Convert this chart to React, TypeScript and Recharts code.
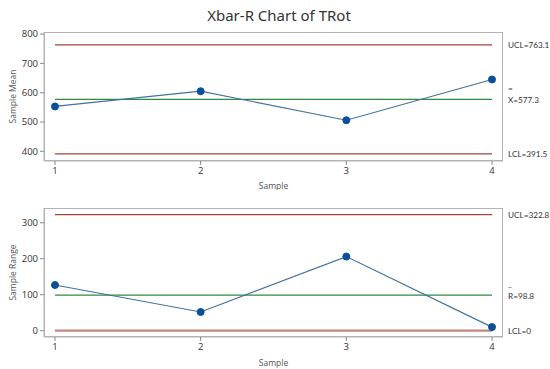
import { LineChart, Line, XAxis, YAxis, ReferenceLine } from "recharts"

const samples = [1, 2, 3, 4]
const sampleMeans = [553, 605, 506, 645]
const sampleRanges = [127, 52, 206, 10]

const meanLimits = { ucl: 763.1, cl: 577.3, lcl: 391.5 }
const rangeLimits = { ucl: 322.8, cl: 98.8, lcl: 0 }

const meanTicks = [400, 500, 600, 700, 800]
const rangeTicks = [0, 100, 200, 300]

const meanData = samples.map((s, i) => ({ sample: s, value: sampleMeans[i] }))
const rangeData = samples.map((s, i) => ({ sample: s, value: sampleRanges[i] }))

const FONT = "'Open Sans', 'Noto Sans', sans-serif"
const LABEL_FONT = "Lato, 'Open Sans', sans-serif"
const LIMIT = "#a2443a"
const CENTER = "#2f8a3c"
const SERIES = "#3f739e"
const DOT = "#0b4f98"
const FRAME = "#b3b3b3"

function LimitLabel(props: any) {
  const { viewBox, text, bar } = props
  if (!viewBox) return null
  const x = viewBox.x + viewBox.width + 16
  const y = viewBox.y
  if (bar) {
    return (
      <g fontFamily={LABEL_FONT} fontSize={8.2} fill="#333">
        <text x={x} y={y - 11} dominantBaseline="central">{bar}</text>
        <text x={x} y={y + 1} dominantBaseline="central">{text}</text>
      </g>
    )
  }
  return (
    <text x={x} y={y} fontFamily={LABEL_FONT} fontSize={8.2} fill="#333" dominantBaseline="central">
      {text}
    </text>
  )
}

type PanelProps = {
  data: { sample: number; value: number }[]
  limits: { ucl: number; cl: number; lcl: number }
  domain: [number, number]
  ticks: number[]
  yLabel: string
  clText: string
  clBar: string
  height: number
  top: number
  xAxisHeight: number
  xLabelOffset: number
  lclStroke: string
  lclWidth: number
}

function Panel(p: PanelProps) {
  const first = samples[0]
  const last = samples[samples.length - 1]
  const tickStyle = { fontSize: 9.5, fill: "#333", fontFamily: FONT }
  return (
    <div style={{ position: "relative", width: 550, height: p.height }}>
      <LineChart
        width={550}
        height={p.height}
        data={p.data}
        margin={{ top: p.top, right: 47, bottom: 0, left: 0 }}
      >
        <XAxis
          dataKey="sample"
          type="number"
          domain={[first, last]}
          ticks={samples}
          padding={{ left: 11, right: 11 }}
          height={p.xAxisHeight}
          tickSize={4}
          stroke={FRAME}
          tick={tickStyle}
          tickLine={{ stroke: "#888" }}
          label={{ value: "Sample", position: "insideBottom", offset: p.xLabelOffset, fontSize: 8.5, fill: "#555", fontFamily: FONT }}
        />
        <YAxis
          type="number"
          domain={p.domain}
          ticks={p.ticks}
          width={44}
          tickSize={4}
          stroke={FRAME}
          tick={tickStyle}
          tickLine={{ stroke: "#888" }}
          label={{ value: p.yLabel, angle: -90, position: "insideLeft", offset: 13, fontSize: 8.5, fill: "#555", fontFamily: FONT, style: { textAnchor: "middle" } }}
        />
        <ReferenceLine
          segment={[{ x: first, y: p.limits.ucl }, { x: last, y: p.limits.ucl }]}
          stroke={LIMIT}
          strokeWidth={1.3}
          label={(lp: any) => <LimitLabel {...lp} text={`UCL=${p.limits.ucl}`} />}
        />
        <ReferenceLine
          segment={[{ x: first, y: p.limits.cl }, { x: last, y: p.limits.cl }]}
          stroke={CENTER}
          strokeWidth={1.3}
          label={(lp: any) => <LimitLabel {...lp} text={p.clText} bar={p.clBar} />}
        />
        <ReferenceLine
          segment={[{ x: first, y: p.limits.lcl }, { x: last, y: p.limits.lcl }]}
          stroke={p.lclStroke}
          strokeWidth={p.lclWidth}
          label={(lp: any) => <LimitLabel {...lp} text={`LCL=${p.limits.lcl}`} />}
        />
        <Line
          dataKey="value"
          stroke={SERIES}
          strokeWidth={1.2}
          dot={{ r: 3.5, fill: DOT, stroke: DOT, strokeWidth: 1 }}
          isAnimationActive={false}
        />
      </LineChart>
      {/* plot frame */}
      <div
        style={{
          position: "absolute",
          left: 44,
          top: p.top,
          width: 459,
          height: p.height - p.top - p.xAxisHeight,
          border: `1.5px solid ${FRAME}`,
          boxSizing: "border-box",
          pointerEvents: "none",
        }}
      />
    </div>
  )
}

export default function App() {
  return (
    <div style={{ position: "absolute", left: 0, top: 0, width: 550, height: 369, background: "#fff", overflow: "hidden" }}>
      <div
        style={{
          position: "absolute",
          top: 3,
          left: 0,
          width: 558,
          textAlign: "center",
          fontFamily: "'Noto Sans', sans-serif",
          fontSize: 15,
          color: "#333",
          lineHeight: "24px",
          zIndex: 1,
        }}
      >
        Xbar-R Chart of TRot
      </div>
      <div style={{ position: "absolute", left: 0, top: 0 }}>
        <Panel
          data={meanData}
          limits={meanLimits}
          domain={[367, 807]}
          ticks={meanTicks}
          yLabel="Sample Mean"
          clText={`X=${meanLimits.cl}`}
          clBar="="
          height={190}
          top={32}
          xAxisHeight={29}
          xLabelOffset={1}
          lclStroke={LIMIT}
          lclWidth={1.3}
        />
      </div>
      <div style={{ position: "absolute", left: 0, top: 190 }}>
        <Panel
          data={rangeData}
          limits={rangeLimits}
          domain={[-17.5, 341]}
          ticks={rangeTicks}
          yLabel="Sample Range"
          clText={`R=${rangeLimits.cl}`}
          clBar="_"
          height={179}
          top={18}
          xAxisHeight={32}
          xLabelOffset={3}
          lclStroke="#c48680"
          lclWidth={2.2}
        />
      </div>
    </div>
  )
}
